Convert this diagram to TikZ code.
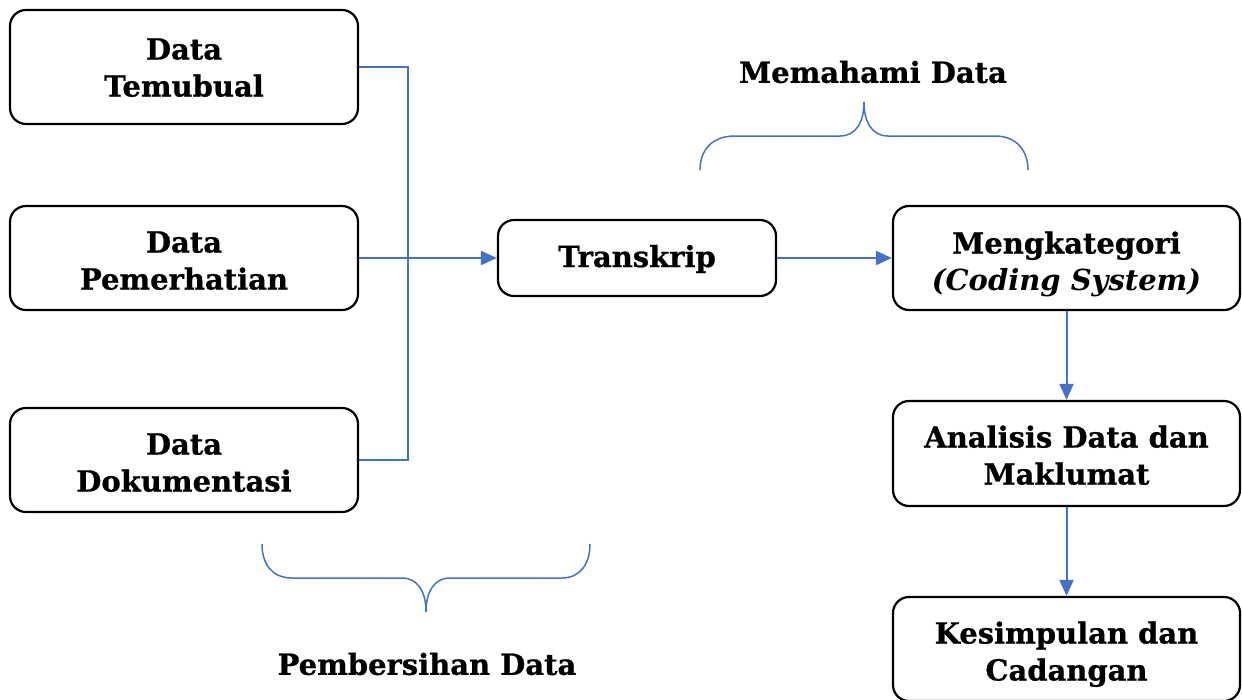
\documentclass[tikz,border=0pt]{standalone}
\usepackage{fontspec}
\setmainfont{DejaVu Serif}[BoldFeatures={FakeBold=0.8}]
\usetikzlibrary{arrows.meta}
\definecolor{lineblue}{RGB}{68,114,196}
\tikzset{
  box/.style={draw=black, line width=2.2pt, rounded corners=16pt, align=center,
    font=\fontsize{29}{37}\selectfont\bfseries, inner sep=0pt},
  two/.style={text height=70pt, text depth=7pt},
  lbl/.style={font=\fontsize{29}{37}\selectfont\bfseries, inner sep=0pt},
  conn/.style={draw=lineblue, line width=2pt},
  arr/.style={conn, -{Triangle[length=16pt,width=14pt]}},
  brace/.style={draw=lineblue, line width=1.5pt}
}
\begin{document}
\begin{tikzpicture}[x=1pt,y=-1pt]
\useasboundingbox (0,0) rectangle (1242,699);
\clip (0,0) rectangle (1242,699);
% left boxes
\node[box, two, text height=66pt, minimum width=348pt, minimum height=114pt] (b1) at (184,67) {Data\\Temubual};
\node[box, two, minimum width=348pt, minimum height=104pt] (b2) at (184,258) {Data\\Pemerhatian};
\node[box, two, minimum width=348pt, minimum height=104pt] (b3) at (184,460) {Data\\Dokumentasi};
% middle
\node[box, text height=22pt, text depth=4pt, minimum width=278pt, minimum height=76pt] (tr) at (637,258) {Transkrip};
% right column
\node[box, two, text height=72pt, minimum width=347pt, minimum height=104pt] (mk) at (1066.5,258) {Mengkategori\\\textit{(Coding System)}};
\node[box, two, text height=69pt, minimum width=347pt, minimum height=105pt] (an) at (1066.5,453.5) {Analisis Data dan\\Maklumat};
\node[box, two, minimum width=347pt, minimum height=104pt] (ks) at (1066.5,649) {Kesimpulan dan\\Cadangan};
% labels
\node[lbl] (mem) at (873,72) {Memahami Data};
\node[lbl] (pem) at (427,664) {Pembersihan Data};
% connectors
\coordinate (j) at (408,258);
\draw[conn] (b1.east) -| (j);
\draw[conn] (b3.east) -| (j);
\draw[arr] (b2.east) -- (tr.west);
\draw[arr] (tr.east) -- (mk.west);
\draw[arr] (mk.south) -- (an.north);
\draw[arr] (an.south) -- (ks.north);
% top brace
\draw[brace] (700,170) .. controls (700,150) and (712,136) .. (735,136)
  -- (840,136) .. controls (856,136) and (864,122) .. (864,102)
  .. controls (864,122) and (872,136) .. (888,136)
  -- (995,136) .. controls (1016,136) and (1028,150) .. (1028,170);
% bottom brace
\draw[brace] (262,544) .. controls (262,564) and (272,578) .. (292,578)
  -- (402,578) .. controls (418,578) and (426,592) .. (426,612)
  .. controls (426,592) and (434,578) .. (450,578)
  -- (562,578) .. controls (580,578) and (590,564) .. (590,544);
\end{tikzpicture}
\end{document}
